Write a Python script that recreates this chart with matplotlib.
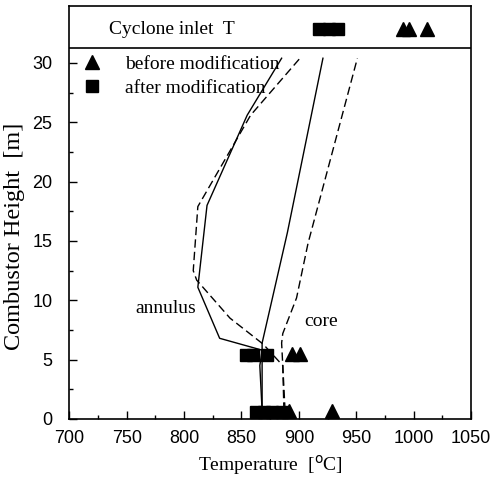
import numpy as np
import matplotlib
matplotlib.use('Agg')
import matplotlib.pyplot as plt
from matplotlib.lines import Line2D

# perfiles de temperatura (altura en m, temperatura en C)
annulus_after_h = [0.7, 4.5, 5.8, 6.8, 11.1, 18.0, 25.6, 30.4]
annulus_after_T = [868, 866, 868, 831, 812, 820, 855, 885]
annulus_before_h = [0.7, 4.5, 6.3, 8.5, 11.7, 12.5, 17.9, 25.6, 30.4]
annulus_before_T = [887, 886, 869, 840, 811, 808, 812, 858, 901]
core_after_h = [0.7, 6.4, 10.2, 15.7, 30.4]
core_after_T = [868, 868, 877, 890, 921]
core_before_h = [0.7, 6.4, 7.2, 10.2, 14.8, 30.4]
core_before_T = [888, 885, 886, 898, 908, 951]

# mediciones
before_T = [891, 929, 894, 901, 991, 996, 1012]
before_h = [0.7, 0.7, 5.5, 5.5, 32.9, 32.9, 32.9]
after_T = [862.6, 869.6, 876.5, 885, 854, 860, 872, 918, 926, 934]
after_h = [0.6, 0.6, 0.6, 0.6, 5.4, 5.4, 5.4, 32.9, 32.9, 32.9]

serif = 'Liberation Serif'
plt.rcParams['font.family'] = 'Liberation Sans'

fig = plt.figure(figsize=(4.96, 4.84), dpi=100)
ax = fig.add_axes([0.1397, 0.1343, 0.8099, 0.8533])

ax.plot(annulus_after_T, annulus_after_h, color='k', lw=1.0)
ax.plot(annulus_before_T, annulus_before_h, color='k', lw=1.0, dashes=(6, 3))
ax.plot(core_after_T, core_after_h, color='k', lw=1.0)
ax.plot(core_before_T, core_before_h, color='k', lw=1.0, dashes=(6, 3))

ax.plot(before_T, before_h, ls='none', marker='^', ms=9.5, color='k')
ax.plot(after_T, after_h, ls='none', marker='s', ms=8.5, color='k')

ax.axhline(31.3, color='k', lw=1.2)
ax.text(735, 32.8, 'Cyclone inlet  T', family=serif, fontsize=14, va='center')
ax.text(758, 9.35, 'annulus', family=serif, fontsize=14, va='center')
ax.text(905, 8.2, 'core', family=serif, fontsize=14, va='center')

handles = [Line2D([], [], ls='none', marker='^', ms=9.5, color='k'),
           Line2D([], [], ls='none', marker='s', ms=8.5, color='k')]
ax.legend(handles, ['before modification', 'after modification'],
          loc='upper left', bbox_to_anchor=(0.0, 0.912), frameon=False,
          prop={'family': serif, 'size': 14}, handlelength=1.0,
          handletextpad=1.2, labelspacing=0.32, borderpad=0.67, borderaxespad=0.0)

ax.set_xlim(700, 1050)
ax.set_ylim(0, 34.8)
ax.set_xticks(np.arange(700, 1051, 50))
ax.set_yticks(np.arange(0, 31, 5))
ax.set_xticks(np.arange(725, 1050, 50), minor=True)
ax.set_yticks(np.arange(2.5, 31, 5), minor=True)
ax.tick_params(which='both', direction='in', labelsize=13)
ax.tick_params(axis='x', which='major', pad=8)
ax.tick_params(axis='y', which='major', pad=12)
ax.tick_params(which='major', length=6, width=1)
ax.tick_params(which='minor', length=3, width=1)
for s in ax.spines.values():
    s.set_linewidth(1.2)

ax.set_xlabel('Temperature  [$^{\\rm o}$C]', family=serif, fontsize=14)
ax.set_ylabel('Combustor Height  [m]', family=serif, fontsize=17.5)
ax.yaxis.set_label_coords(-0.11, 0.443)

fig.savefig('out.png', dpi=100)
